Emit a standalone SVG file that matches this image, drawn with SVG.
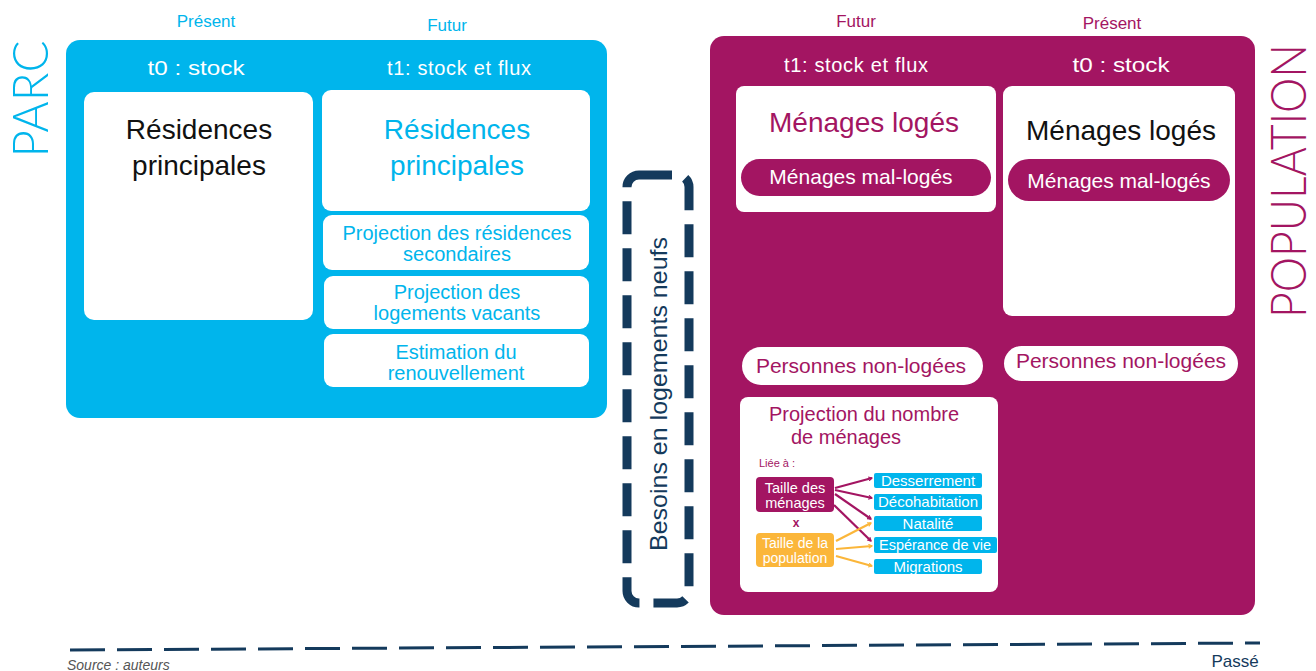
<svg xmlns="http://www.w3.org/2000/svg" width="1316" height="671" viewBox="0 0 1316 671">
<defs>
<style>
text{font-family:"Liberation Sans",Arial,sans-serif;}
.c{fill:#00b5ec}
.m{fill:#a31562}
.w{fill:#fff}
.k{fill:#111}
.n{fill:#143a5c}
.mid{text-anchor:middle}
.thin{font-family:"Lato","Liberation Sans",sans-serif;font-weight:300}
</style>
<marker id="am" viewBox="0 0 10 10" refX="8" refY="5" markerWidth="5" markerHeight="5" orient="auto" markerUnits="userSpaceOnUse">
<path d="M1,1 L8,5 L1,9" fill="none" stroke="#a31562" stroke-width="2.2"/>
</marker>
<marker id="ao" viewBox="0 0 10 10" refX="8" refY="5" markerWidth="5" markerHeight="5" orient="auto" markerUnits="userSpaceOnUse">
<path d="M1,1 L8,5 L1,9" fill="none" stroke="#fbb63a" stroke-width="2.2"/>
</marker>
</defs>
<rect width="1316" height="671" fill="#fff"/>

<g id="parc">
<text class="c thin" font-size="50" text-anchor="middle" textLength="117" lengthAdjust="spacingAndGlyphs" transform="translate(48,99) rotate(-90)">PARC</text>
<text class="c mid" x="206" y="27" font-size="17">Présent</text>
<text class="c mid" x="447" y="31" font-size="17">Futur</text>
<rect x="66" y="40" width="541" height="378" rx="14" fill="#00b5ec"/>
<text class="w mid" x="196" y="75" font-size="21" textLength="97" lengthAdjust="spacingAndGlyphs">t0 : stock</text>
<text class="w mid" x="459" y="75" font-size="20" textLength="144" lengthAdjust="spacing">t1: stock et flux</text>
</g>

<g id="rp-t0">
<rect x="84" y="92" width="229" height="228" rx="10" fill="#fff"/>
<text class="k mid" x="199" y="139" font-size="28">Résidences</text>
<text class="k mid" x="199" y="175" font-size="28">principales</text>
</g>
<g id="rp-t1">
<rect x="322" y="90" width="268" height="121" rx="9" fill="#fff"/>
<text class="c mid" x="457" y="139" font-size="28">Résidences</text>
<text class="c mid" x="457" y="175" font-size="28">principales</text>
</g>
<g id="rs">
<rect x="323" y="215" width="266" height="55" rx="9" fill="#fff"/>
<text class="c mid" x="457" y="240" font-size="20">Projection des résidences</text>
<text class="c mid" x="457" y="261" font-size="20">secondaires</text>
</g>
<g id="lv">
<rect x="324" y="276" width="265" height="53" rx="9" fill="#fff"/>
<text class="c mid" x="457" y="299" font-size="20">Projection des</text>
<text class="c mid" x="457" y="320" font-size="20">logements vacants</text>
</g>
<g id="ren">
<rect x="324" y="334" width="265" height="53" rx="9" fill="#fff"/>
<text class="c mid" x="456" y="359" font-size="20">Estimation du</text>
<text class="c mid" x="456" y="380" font-size="20">renouvellement</text>
</g>

<g id="besoins">
<rect x="627" y="175" width="62" height="428" rx="12" fill="none" stroke="#143a5c" stroke-width="9" stroke-dasharray="33 14"/>
<text class="n" font-size="24" text-anchor="middle" textLength="314" lengthAdjust="spacingAndGlyphs" transform="translate(667,394) rotate(-90)">Besoins en logements neufs</text>
</g>

<g id="population">
<text class="m mid" x="856" y="27" font-size="17">Futur</text>
<text class="m mid" x="1112" y="29" font-size="17">Présent</text>
<rect x="710" y="36" width="545" height="579" rx="14" fill="#a31562"/>
<text class="w mid" x="856" y="72" font-size="20" textLength="144" lengthAdjust="spacing">t1: stock et flux</text>
<text class="w mid" x="1121" y="72" font-size="21" textLength="97" lengthAdjust="spacingAndGlyphs">t0 : stock</text>
<text class="m thin" font-size="50" text-anchor="middle" textLength="274" lengthAdjust="spacingAndGlyphs" transform="translate(1306,181) rotate(-90)">POPULATION</text>
</g>

<g id="ml-t1">
<rect x="736" y="86" width="260" height="126" rx="8" fill="#fff"/>
<text class="m mid" x="864" y="132" font-size="28">Ménages logés</text>
<rect x="741" y="159" width="250" height="37" rx="18.5" fill="#a31562"/>
<text class="w mid" x="861" y="184" font-size="21">Ménages mal-logés</text>
</g>
<g id="ml-t0">
<rect x="1003" y="86" width="232" height="230" rx="9" fill="#fff"/>
<text class="k mid" x="1121" y="140" font-size="28">Ménages logés</text>
<rect x="1008" y="159" width="222" height="42" rx="21" fill="#a31562"/>
<text class="w mid" x="1119" y="188" font-size="21">Ménages mal-logés</text>
</g>
<g id="pnl-t1">
<rect x="742" y="347" width="241" height="38" rx="19" fill="#fff"/>
<text class="m mid" x="861" y="373" font-size="21">Personnes non-logées</text>
</g>
<g id="pnl-t0">
<rect x="1004" y="346" width="234" height="35" rx="17.5" fill="#fff"/>
<text class="m mid" x="1121" y="368" font-size="21">Personnes non-logées</text>
</g>

<g id="projection-menages">
<rect x="740" y="397" width="258" height="195" rx="8" fill="#fff"/>
<text class="m mid" x="864" y="421" font-size="20">Projection du nombre</text>
<text class="m mid" x="846" y="444" font-size="20">de ménages</text>
<text class="m" x="759" y="467" font-size="11">Liée à :</text>
</g>
<g id="taille-menages">
<rect x="756" y="477" width="78" height="35" rx="4" fill="#a31562"/>
<text class="w mid" x="795" y="493" font-size="14.5">Taille des</text>
<text class="w mid" x="795" y="508" font-size="14.5">ménages</text>
</g>
<text class="m mid" x="796" y="527" font-size="12" font-weight="bold">x</text>
<g id="taille-pop">
<rect x="756" y="533" width="78" height="34" rx="4" fill="#fbb63a"/>
<text class="w mid" x="795" y="548" font-size="14">Taille de la</text>
<text class="w mid" x="795" y="563" font-size="14">population</text>
</g>
<g id="desserrement">
<rect x="874" y="473" width="108" height="15" rx="2" fill="#00b5ec"/>
<text class="w mid" x="928" y="486" font-size="15">Desserrement</text>
</g>
<g id="decohabitation">
<rect x="874" y="494" width="108" height="16" rx="2" fill="#00b5ec"/>
<text class="w mid" x="928" y="507" font-size="15">Décohabitation</text>
</g>
<g id="natalite">
<rect x="874" y="516" width="108" height="15" rx="2" fill="#00b5ec"/>
<text class="w mid" x="928" y="529" font-size="15">Natalité</text>
</g>
<g id="esperance">
<rect x="874" y="537" width="123" height="16" rx="2" fill="#00b5ec"/>
<text class="w mid" x="935" y="550" font-size="14.5">Espérance de vie</text>
</g>
<g id="migrations">
<rect x="874" y="559" width="108" height="15" rx="2" fill="#00b5ec"/>
<text class="w mid" x="928" y="572" font-size="15">Migrations</text>
</g>

<g id="connectors" fill="none" stroke-width="2.2">
<g stroke="#a31562">
<line x1="835" y1="488" x2="872" y2="478" marker-end="url(#am)"/>
<line x1="835" y1="490" x2="872" y2="498" marker-end="url(#am)"/>
<line x1="835" y1="494" x2="871" y2="519" marker-end="url(#am)"/>
<line x1="834" y1="505" x2="871" y2="541" marker-end="url(#am)"/>
</g>
<g stroke="#fbb63a">
<line x1="836" y1="541" x2="871" y2="523" marker-end="url(#ao)"/>
<line x1="836" y1="549" x2="872" y2="546" marker-end="url(#ao)"/>
<line x1="836" y1="556" x2="872" y2="566" marker-end="url(#ao)"/>
</g>
<line x1="70" y1="650" x2="1260" y2="643" stroke="#143a5c" stroke-width="3" stroke-dasharray="35 12"/>
</g>

<text class="n mid" x="1235" y="667" font-size="17">Passé</text>
<text x="67" y="670" font-size="14" font-style="italic" fill="#555">Source : auteurs</text>
</svg>
